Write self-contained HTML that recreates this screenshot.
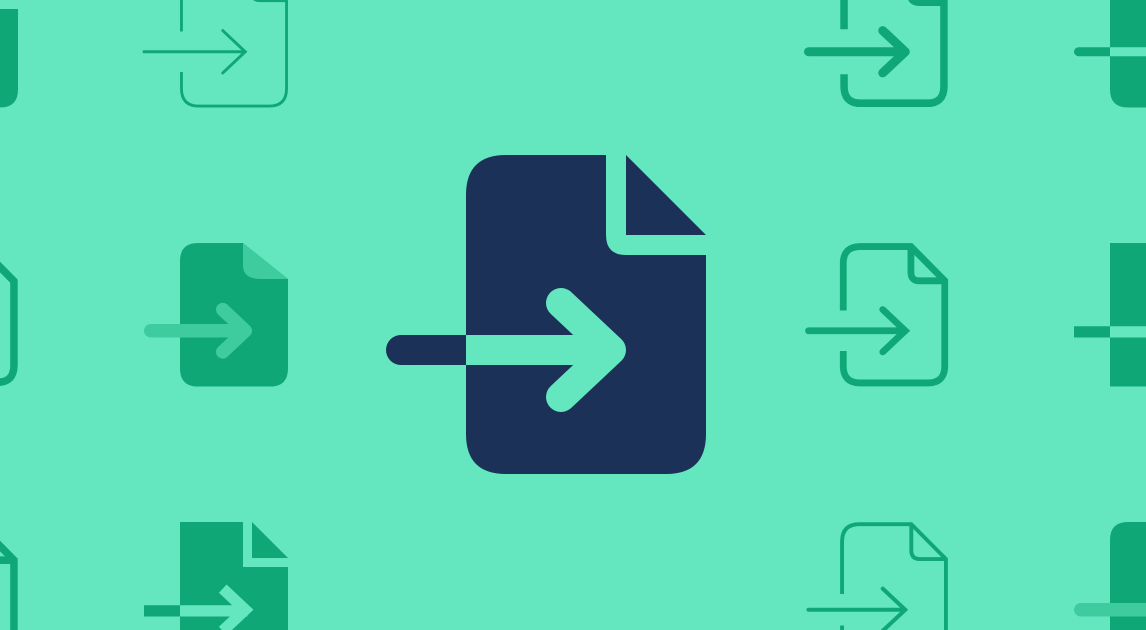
<!DOCTYPE html>
<html><head><meta charset="utf-8"><style>html,body{margin:0;padding:0;background:#64E7BF;overflow:hidden;width:1146px;height:630px}svg{display:block}</style></head><body>
<svg width="1146" height="630" viewBox="0 0 1146 630" xmlns="http://www.w3.org/2000/svg">
<defs>
<path id="body" d="M506,155 H606 V235 Q606,255 626,255 H706 V434 Q706,474 666,474 H506 Q466,474 466,434 V195 Q466,155 506,155 Z"/>
<path id="bodySq" d="M466,155 H606 V255 H706 V474 H466 Z"/>
<path id="tri" d="M626,155 L706,235 H626 Z"/>
<path id="outline" d="M506,155 H626 L706,235 V434 Q706,474 666,474 H506 Q466,474 466,434 V195 Q466,155 506,155 Z"/>
<path id="foldl" d="M626,155 V215 Q626,235 646,235 H706"/>
<path id="chev" d="M561,303 L611,350 L561,397"/>
</defs>
<rect width="1146" height="630" fill="#64E7BF"/>

<!-- Main icon -->
<use href="#body" fill="#1B3157"/>
<use href="#tri" fill="#1B3157"/>
<rect x="401" y="335" width="65" height="30" fill="#1B3157"/>
<circle cx="401" cy="350" r="15" fill="#1B3157"/>
<rect x="466" y="335" width="135" height="30" fill="#64E7BF"/>
<use href="#chev" fill="none" stroke="#64E7BF" stroke-width="30" stroke-linecap="round" stroke-linejoin="round"/>

<!-- Row 1 -->
<g transform="translate(-299.7,-105.75) scale(0.45)">
<use href="#body" fill="#0FA776"/>
</g>
<g transform="translate(-29.7,-105.75) scale(0.45)">
<g transform="translate(586,314.5) scale(0.973,0.98) translate(-586,-314.5)">
<use href="#outline" fill="none" stroke="#0FA776" stroke-width="6.5"/>
<use href="#foldl" fill="none" stroke="#0FA776" stroke-width="6.5"/>
</g>
<rect x="450" y="305" width="40" height="90" fill="#64E7BF"/>
<line x1="386" y1="350" x2="611" y2="350" stroke="#0FA776" stroke-width="6.5" stroke-linecap="round"/>
<use href="#chev" fill="none" stroke="#0FA776" stroke-width="6.5" stroke-linecap="round"/>
</g>
<g transform="translate(630.3,-105.75) scale(0.45)">
<g transform="translate(586,314.5) scale(0.925,0.94) translate(-586,-314.5)">
<use href="#outline" fill="none" stroke="#0FA776" stroke-width="18"/>
<use href="#foldl" fill="none" stroke="#0FA776" stroke-width="18"/>
</g>
<rect x="450" y="300" width="40" height="100" fill="#64E7BF"/>
<line x1="396" y1="350" x2="606" y2="350" stroke="#0FA776" stroke-width="20" stroke-linecap="round"/>
<use href="#chev" fill="none" stroke="#0FA776" stroke-width="20" stroke-linecap="round" stroke-linejoin="round"/>
</g>
<g transform="translate(900.3,-105.75) scale(0.45)">
<use href="#body" fill="#0FA776"/>
<use href="#tri" fill="#0FA776"/>
<line x1="396" y1="350" x2="466" y2="350" stroke="#0FA776" stroke-width="20" stroke-linecap="round"/>
<rect x="466" y="340" width="150" height="20" fill="#64E7BF"/>
<use href="#chev" fill="none" stroke="#64E7BF" stroke-width="20" stroke-linecap="round"/>
</g>

<!-- Row 2 -->
<g transform="translate(-299.7,173.25) scale(0.45)">
<g transform="translate(586,314.5) scale(0.925,0.94) translate(-586,-314.5)">
<use href="#outline" fill="none" stroke="#0FA776" stroke-width="18"/>
</g>
</g>
<g transform="translate(-29.7,173.25) scale(0.45)">
<path d="M506,155 H606 L706,235 V434 Q706,474 666,474 H506 Q466,474 466,434 V195 Q466,155 506,155 Z" fill="#0FA776"/>
<path d="M606,155 L706,235 H646 Q606,235 606,205 Z" fill="#3ECC9F"/>
<line x1="401" y1="350" x2="606" y2="350" stroke="#3ECC9F" stroke-width="30" stroke-linecap="round"/>
<use href="#chev" fill="none" stroke="#3ECC9F" stroke-width="30" stroke-linecap="round" stroke-linejoin="round"/>
</g>
<g transform="translate(630.3,173.25) scale(0.45)">
<g transform="translate(586,314.5) scale(0.94,0.95) translate(-586,-314.5)">
<use href="#outline" fill="none" stroke="#0FA776" stroke-width="16"/>
<use href="#foldl" fill="none" stroke="#0FA776" stroke-width="16"/>
</g>
<rect x="450" y="305" width="40" height="90" fill="#64E7BF"/>
<line x1="396" y1="350" x2="606" y2="350" stroke="#0FA776" stroke-width="15" stroke-linecap="round"/>
<use href="#chev" fill="none" stroke="#0FA776" stroke-width="15" stroke-linecap="round"/>
</g>
<g transform="translate(900.3,173.25) scale(0.45)">
<use href="#bodySq" fill="#0FA776"/>
<rect x="386" y="340" width="80" height="25" fill="#0FA776"/>
<rect x="466" y="340" width="150" height="25" fill="#64E7BF"/>
<use href="#chev" fill="none" stroke="#64E7BF" stroke-width="20"/>
</g>

<!-- Row 3 -->
<g transform="translate(-299.7,452.25) scale(0.45)">
<g transform="translate(586,314.5) scale(0.925,0.94) translate(-586,-314.5)">
<use href="#outline" fill="none" stroke="#0FA776" stroke-width="18"/>
<use href="#foldl" fill="none" stroke="#0FA776" stroke-width="18"/>
</g>
</g>
<g transform="translate(-29.7,452.25) scale(0.45)">
<use href="#bodySq" fill="#0FA776"/>
<path d="M626,155 L706,235 H626 Z" fill="#0FA776"/>
<rect x="386" y="340" width="80" height="25" fill="#0FA776"/>
<rect x="466" y="340" width="150" height="25" fill="#64E7BF"/>
<use href="#chev" fill="none" stroke="#64E7BF" stroke-width="25"/>
</g>
<g transform="translate(630.3,452.25) scale(0.45)">
<g transform="translate(586,314.5) scale(0.962,0.97) translate(-586,-314.5)">
<use href="#outline" fill="none" stroke="#0FA776" stroke-width="9"/>
<use href="#foldl" fill="none" stroke="#0FA776" stroke-width="9"/>
</g>
<rect x="450" y="315" width="40" height="70" fill="#64E7BF"/>
<line x1="396" y1="350" x2="608" y2="350" stroke="#0FA776" stroke-width="9" stroke-linecap="round"/>
<use href="#chev" fill="none" stroke="#0FA776" stroke-width="9" stroke-linecap="round"/>
</g>
<g transform="translate(900.3,452.25) scale(0.45)">
<use href="#body" fill="#0FA776"/>
<use href="#tri" fill="#0FA776"/>
<line x1="401" y1="350" x2="606" y2="350" stroke="#3ECC9F" stroke-width="30" stroke-linecap="round"/>
<use href="#chev" fill="none" stroke="#3ECC9F" stroke-width="30" stroke-linecap="round"/>
</g>
</svg>
</body></html>
